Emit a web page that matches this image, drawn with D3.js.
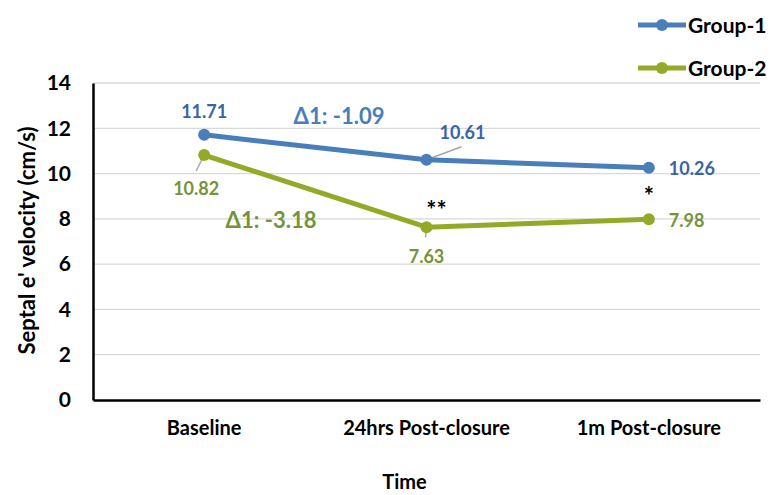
<!DOCTYPE html>
<html lang="en">
<head>
<meta charset="utf-8">
<script src="https://d3js.org/d3.v7.min.js"></script>
<style>
  body { margin: 0; background: #fff; }
  svg text { font-family: Lato, "Open Sans", sans-serif; font-weight: bold; }
</style>
</head>
<body>
<script>
  // chart data
  var categories = ["Baseline", "24hrs Post-closure", "1m Post-closure"];
  var group1 = [11.71, 10.61, 10.26];
  var group2 = [10.82, 7.63, 7.98];
  var yTicks = [0, 2, 4, 6, 8, 10, 12, 14];
  var seriesNames = ["Group-1", "Group-2"];
  var stars = ["", "**", "*"];

  var width = 772, height = 495;
  var margin = { left: 93, right: 12, top: 83, bottom: 95 };

  var blue = "#4a7ebb", blueText = "#3a64a2";
  var green = "#93aa28", greenText = "#76933a";

  var svg = d3.select("body").append("svg")
    .attr("width", width).attr("height", height);

  var x = d3.scaleBand().domain(categories)
    .range([margin.left, width - margin.right]);
  var y = d3.scaleLinear().domain([0, 14])
    .range([height - margin.bottom, margin.top]);

  // gridlines
  svg.append("g").selectAll("line")
    .data(yTicks.slice(1))
    .enter().append("line")
    .attr("x1", margin.left).attr("x2", width - margin.right)
    .attr("y1", function(d) { return y(d); })
    .attr("y2", function(d) { return y(d); })
    .attr("stroke", "#d9d9d9").attr("stroke-width", 1.3);

  // y axis
  var yAxis = svg.append("g")
    .attr("transform", "translate(" + margin.left + ",0)")
    .call(d3.axisLeft(y).tickValues(yTicks).tickSize(0).tickPadding(22));
  yAxis.select(".domain").attr("stroke", "#000").attr("stroke-width", 2.5);
  yAxis.selectAll("text").attr("font-size", 21).attr("fill", "#000");

  // x axis
  var xAxis = svg.append("g")
    .attr("transform", "translate(0," + y(0) + ")")
    .call(d3.axisBottom(x).tickSize(0).tickPadding(21));
  xAxis.select(".domain").attr("stroke", "#000").attr("stroke-width", 2.5);
  xAxis.selectAll("text").attr("font-size", 20).attr("fill", "#000");

  // axis titles
  svg.append("text")
    .attr("x", x("24hrs Post-closure") + x.bandwidth() / 2 - 22)
    .attr("y", 489)
    .attr("text-anchor", "middle")
    .attr("font-size", 20)
    .text("Time");

  svg.append("text")
    .attr("transform", "translate(35," + (y(7) - 1) + ") rotate(-90)")
    .attr("text-anchor", "middle")
    .attr("font-size", 22)
    .text("Septal e' velocity (cm/s)");

  var cx = function(i) { return x(categories[i]) + x.bandwidth() / 2; };

  var line = d3.line()
    .x(function(d, i) { return cx(i); })
    .y(function(d) { return y(d); });

  function drawSeries(values, color) {
    svg.append("path")
      .datum(values)
      .attr("d", line)
      .attr("fill", "none")
      .attr("stroke", color)
      .attr("stroke-width", 5)
      .attr("stroke-linejoin", "round");
    svg.append("g").selectAll("circle")
      .data(values)
      .enter().append("circle")
      .attr("cx", function(d, i) { return cx(i); })
      .attr("cy", function(d) { return y(d); })
      .attr("r", 6)
      .attr("fill", color);
  }

  // leader lines
  var leaders = [
    [cx(1), y(group1[1]), cx(1) + 35, y(group1[1]) - 13],
    [cx(0), y(group2[0]), cx(0) - 8, y(group2[0]) + 16],
    [cx(1), y(group2[1]), cx(1) - 1, y(group2[1]) + 10]
  ];
  svg.append("g").selectAll("line")
    .data(leaders)
    .enter().append("line")
    .attr("x1", function(d) { return d[0]; })
    .attr("y1", function(d) { return d[1]; })
    .attr("x2", function(d) { return d[2]; })
    .attr("y2", function(d) { return d[3]; })
    .attr("stroke", "#a6a6a6").attr("stroke-width", 1.5);

  drawSeries(group1, blue);
  drawSeries(group2, green);

  // data labels
  var labels1 = [
    [cx(0), y(group1[0]) - 17, "middle"],
    [cx(1) + 36, y(group1[1]) - 21, "middle"],
    [cx(2) + 20, y(group1[2]) + 7, "start"]
  ];
  var labels2 = [
    [cx(0) - 8, y(group2[0]) + 40, "middle"],
    [cx(1), y(group2[1]) + 36, "middle"],
    [cx(2) + 20, y(group2[2]) + 8, "start"]
  ];
  function drawLabels(values, pos, color) {
    svg.append("g").selectAll("text")
      .data(values)
      .enter().append("text")
      .attr("x", function(d, i) { return pos[i][0]; })
      .attr("y", function(d, i) { return pos[i][1]; })
      .attr("text-anchor", function(d, i) { return pos[i][2]; })
      .attr("font-size", 18)
      .attr("fill", color)
      .text(function(d) { return d3.format(".2f")(d); });
  }
  drawLabels(group1, labels1, blueText);
  drawLabels(group2, labels2, greenText);

  // significance stars
  svg.append("g").selectAll("text")
    .data(stars)
    .enter().append("text")
    .attr("x", function(d, i) { return cx(i) + (i == 1 ? 10 : 0); })
    .attr("y", function(d, i) { return y(group2[i]) - (i == 1 ? 8 : 14); })
    .attr("text-anchor", "middle")
    .attr("font-size", 24)
    .attr("fill", "#000")
    .text(function(d) { return d; });

  // delta annotations
  svg.append("text")
    .attr("x", 339).attr("y", 124)
    .attr("text-anchor", "middle")
    .attr("font-size", 22).attr("fill", blue)
    .text("\u03941: -1.09");
  svg.append("text")
    .attr("x", 271).attr("y", 228)
    .attr("text-anchor", "middle")
    .attr("font-size", 22).attr("fill", greenText)
    .text("\u03941: -3.18");

  // legend
  var legend = svg.append("g").selectAll("g")
    .data(seriesNames)
    .enter().append("g")
    .attr("transform", function(d, i) { return "translate(638," + (25 + i * 43) + ")"; });
  legend.append("line")
    .attr("x1", 0).attr("x2", 48)
    .attr("stroke", function(d, i) { return i ? green : blue; })
    .attr("stroke-width", 5);
  legend.append("circle")
    .attr("cx", 24).attr("r", 6)
    .attr("fill", function(d, i) { return i ? green : blue; });
  legend.append("text")
    .attr("x", 50).attr("y", 8)
    .attr("font-size", 21)
    .text(function(d) { return d; });
</script>
</body>
</html>
